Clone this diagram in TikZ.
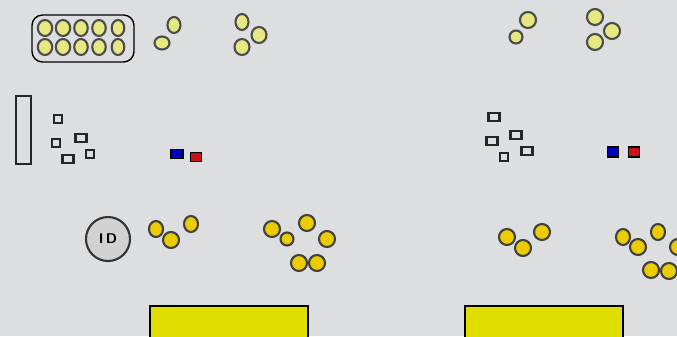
\documentclass[tikz,border=0pt]{standalone}
\usepackage{tikz}

\definecolor{bg}{RGB}{221,222,224}
\definecolor{pale}{RGB}{230,232,130}
\definecolor{gold}{RGB}{234,204,0}
\definecolor{tray}{RGB}{224,222,0}
\definecolor{chipblue}{RGB}{0,0,190}
\definecolor{chipred}{RGB}{200,20,20}

\tikzset{
  palebead/.style={fill=pale, draw=black!70, line width=1.2pt},
  goldbead/.style={fill=gold, draw=black!75, line width=1.2pt},
  box/.style={draw=black!85, line width=1.2pt, fill=bg},
}

\begin{document}
\begin{tikzpicture}[x=0.02cm, y=-0.02cm]

\fill[bg] (0,0) rectangle (677,336);
\useasboundingbox (0,0) rectangle (677,336);

% tray with ten beads
\draw[thick, rounded corners=6] (32,15) rectangle (134,62);
\foreach \x/\r in {45/8, 63/8, 81/7.5, 99/7.5, 118/7}{
  \draw[palebead] (\x,28) ellipse (\r*0.9 and 8);
  \draw[palebead] (\x,47) ellipse (\r*0.9 and 8);
}

% pale beads, left
\draw[palebead] (162,43) ellipse (7.5 and 6.5);
\draw[palebead] (174,25) ellipse (6.5 and 8);
\draw[palebead] (242,22) ellipse (6.5 and 8);
\draw[palebead] (259,35) ellipse (7.5 and 8);
\draw[palebead] (242,47) ellipse (7.5 and 8);

% pale beads, right
\draw[palebead] (516,37) circle (6.5);
\draw[palebead] (528,20) circle (8);
\draw[palebead] (595,17) circle (8);
\draw[palebead] (612,31) circle (8);
\draw[palebead] (595,42) circle (8);

% slot and small boxes, left
\draw[box] (16,96) rectangle (31,164);
\foreach \x/\y/\w in {58/119/8, 56/143/8, 81/138/11, 68/159/11, 90/154/8}{
  \draw[box] (\x-\w/2,\y-4) rectangle (\x+\w/2,\y+4);
}
\draw[thick, fill=chipblue] (171,149.5) rectangle (183,158.5);
\draw[thick, fill=chipred] (190.5,152.5) rectangle (201.5,161.5);

% small boxes, right
\foreach \x/\y/\w in {494/117/11, 492/141/11, 516/135/11, 504/157/8, 527/151/11}{
  \draw[box] (\x-\w/2,\y-4) rectangle (\x+\w/2,\y+4);
}
\draw[thick, fill=chipblue] (607.5,147) rectangle (618.5,157);
\draw[thick, fill=chipred] (628.5,147) rectangle (639.5,157);

% ID token
\node[circle, draw=black!80, line width=1.2pt, fill=black!18, minimum size=0.88cm,
      inner sep=0pt, font=\sffamily\footnotesize\bfseries] (idtoken) at (108,239) {I\,D};

% gold beads, left
\draw[goldbead] (156,229) ellipse (7 and 8);
\draw[goldbead] (171,240) circle (8);
\draw[goldbead] (191,224) ellipse (7 and 8);
\draw[goldbead] (272,229) circle (8);
\draw[goldbead] (287,239) circle (6.5);
\draw[goldbead] (307,223) circle (8);
\draw[goldbead] (327,239) circle (8);
\draw[goldbead] (299,263) circle (8);
\draw[goldbead] (317,263) circle (8);

% gold beads, right
\draw[goldbead] (507,237) circle (8);
\draw[goldbead] (523,248) circle (8);
\draw[goldbead] (542,232) circle (8);
\draw[goldbead] (623,237) ellipse (7 and 8);
\draw[goldbead] (638,247) circle (8);
\draw[goldbead] (658,232) ellipse (7 and 8);
\draw[goldbead] (678,247) circle (8);
\draw[goldbead] (651,270) circle (8);
\draw[goldbead] (669,271) circle (8);

% yellow bins
\draw[thick, fill=tray] (150,306) rectangle (308,340);
\draw[thick, fill=tray] (465,306) rectangle (623,340);

\end{tikzpicture}
\end{document}
